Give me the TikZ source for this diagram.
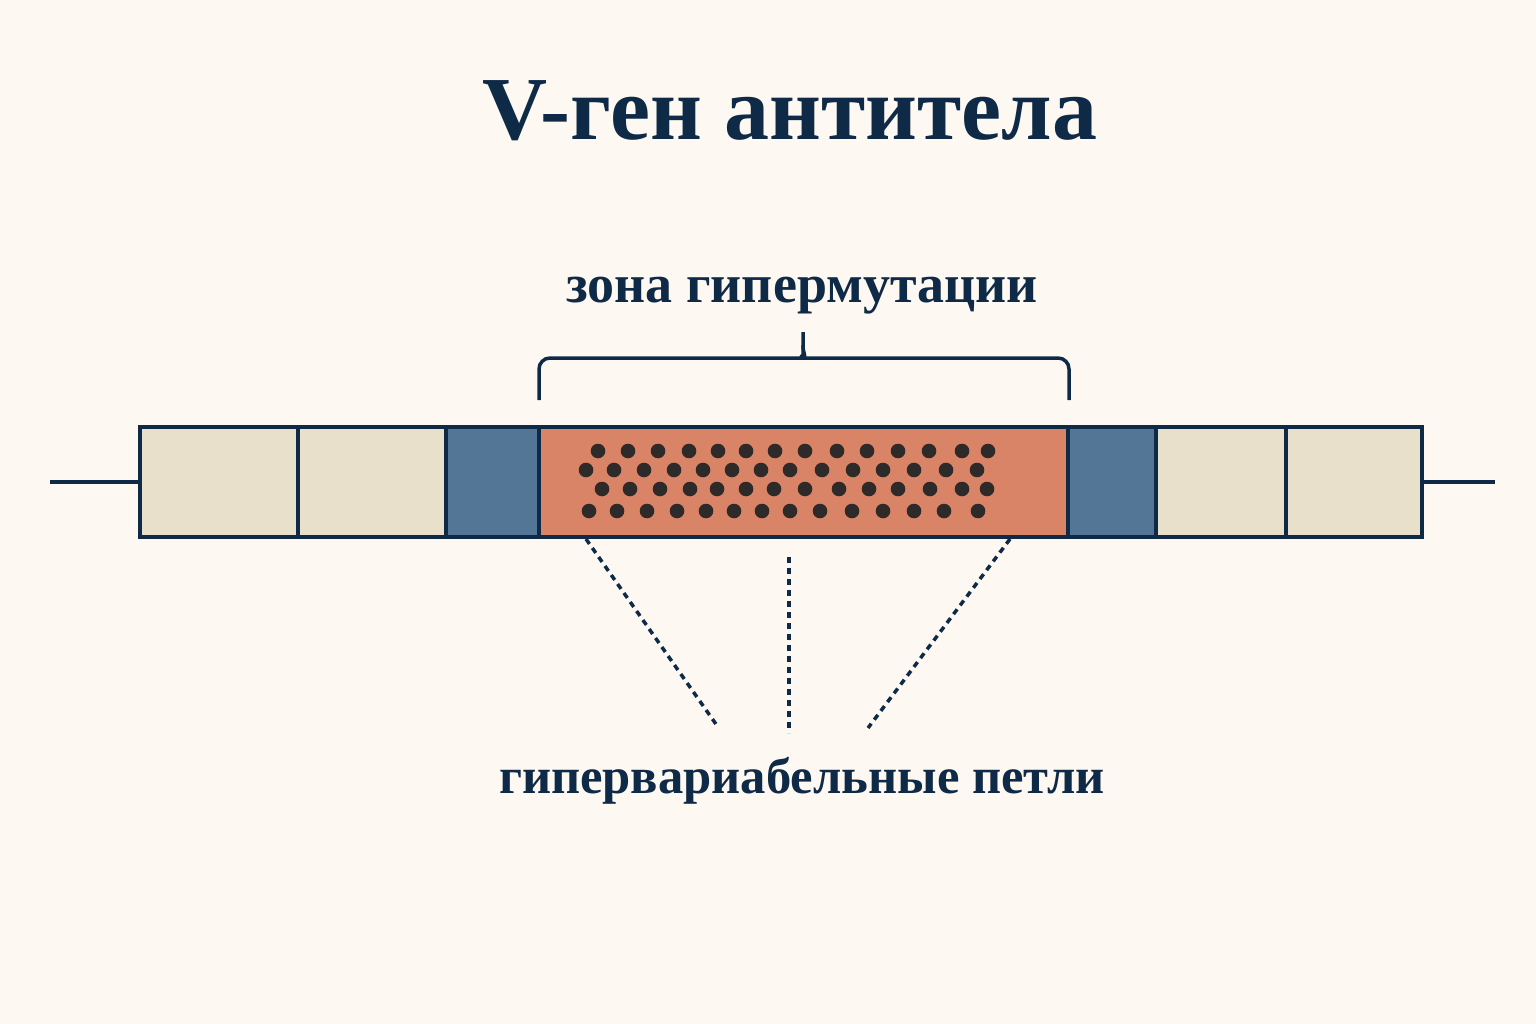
\documentclass[tikz,border=0pt]{standalone}
\usepackage{fontspec}
\setmainfont{Liberation Serif}
\definecolor{bgc}{HTML}{FDF9F2}
\definecolor{navy}{HTML}{0F2A47}
\definecolor{beige}{HTML}{E9E0CC}
\definecolor{steel}{HTML}{537596}
\definecolor{salmon}{HTML}{D98466}
\definecolor{dotc}{HTML}{2E2A2A}
\tikzset{
  seg/.style={draw=navy, line width=3.8pt, minimum height=110pt, inner sep=0pt, rectangle},
  wire/.style={draw=navy, line width=3.5pt},
  brace/.style={draw=navy, line width=3.5pt, rounded corners=11pt},
  dotline/.style={draw=navy, line width=3.5pt, dash pattern=on 6pt off 5pt},
  dotm/.style={fill=dotc},
  ttl/.style={text=navy, font=\fontsize{90}{100}\selectfont\bfseries},
  lbl/.style={text=navy, font=\fontsize{54}{60}\selectfont\bfseries},
  lblb/.style={text=navy, font=\fontsize{50.6}{56}\selectfont\bfseries}
}
\begin{document}
\begin{tikzpicture}[x=1pt,y=-1pt]
\useasboundingbox[fill=bgc] (0,0) rectangle (1536,1024);
% title and labels
\node[ttl, anchor=base] (title) at (790,140) {V-ген антитела};
\node[lbl, anchor=base] (zone) at (802,302) {зона гипермутации};
\node[lblb, anchor=base] (loops) at (802,793) {гипервариабельные петли};
% segments
\node[seg, fill=beige, minimum width=158pt] (b1) at (219,482) {};
\node[seg, fill=beige, minimum width=148pt] (b2) at (372,482) {};
\node[seg, fill=steel, minimum width=93pt] (s1) at (492.5,482) {};
\node[seg, fill=salmon, minimum width=529pt] (hz) at (803.5,482) {};
\node[seg, fill=steel, minimum width=88pt] (s2) at (1112,482) {};
\node[seg, fill=beige, minimum width=130pt] (b3) at (1221,482) {};
\node[seg, fill=beige, minimum width=136pt] (b4) at (1354,482) {};
% flanking lines
\coordinate (lend) at (50,482);
\coordinate (rend) at (1495,482);
\draw[wire] (lend) -- (b1.west);
\draw[wire] (b4.east) -- (rend);
% dots
\foreach \x in {598,628,658,689,718,746,775,805,837,867,898,929,962,988}
  \fill[dotm] (\x,451) circle[radius=7.3pt];
\foreach \x in {586,614,644,674,703,732,761,790,822,853,883,914,946,977}
  \fill[dotm] (\x,470) circle[radius=7.3pt];
\foreach \x in {602,630,660,690,717,746,774,805,839,869,898,930,962,987}
  \fill[dotm] (\x,489) circle[radius=7.3pt];
\foreach \x in {589,617,647,677,706,734,762,790,820,852,883,914,944,978}
  \fill[dotm] (\x,511) circle[radius=7.3pt];
% brace
\coordinate (brl) at (539,400);
\coordinate (brr) at (1069,400);
\coordinate (brtip) at (803,332);
\draw[brace] (brl) |- (792,358) .. controls (799,358) and (803,354) .. (803,345) -- (brtip);
\draw[brace] (brr) |- (814,358) .. controls (807,358) and (803,354) .. (803,345);
% dotted lines
\coordinate (d1a) at (586,539);
\coordinate (d1b) at (718,727);
\coordinate (d2a) at (789,557);
\coordinate (d2b) at (789,733);
\coordinate (d3a) at (1010,539);
\coordinate (d3b) at (868,728);
\draw[dotline] (d1a) -- (d1b);
\draw[dotline] (d2a) -- (d2b);
\draw[dotline] (d3a) -- (d3b);
\end{tikzpicture}
\end{document}
